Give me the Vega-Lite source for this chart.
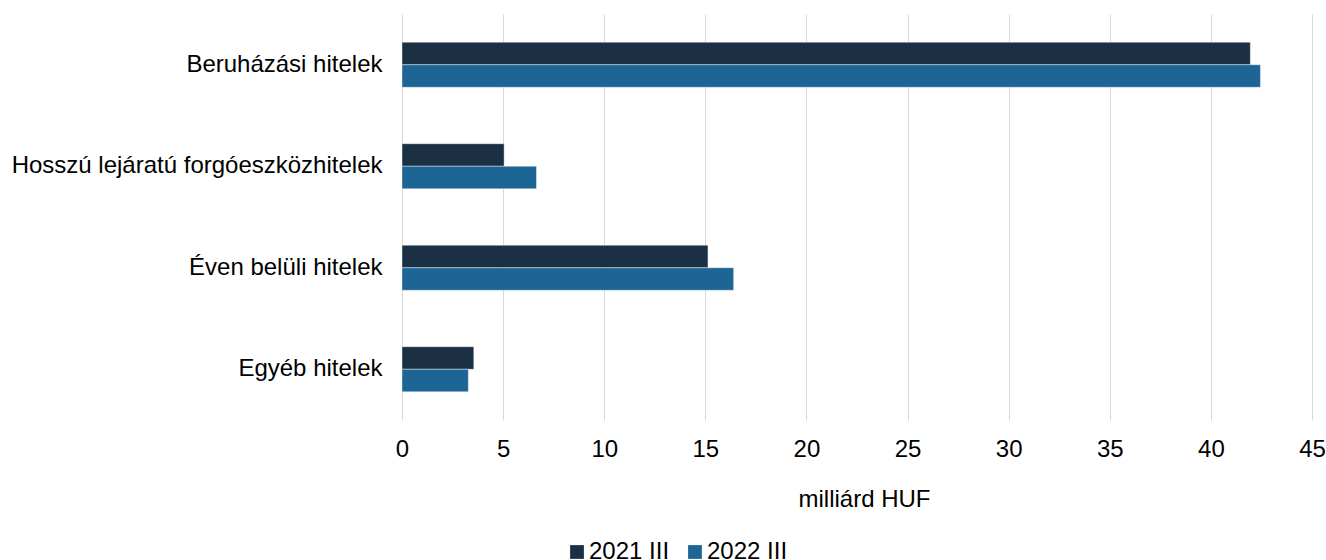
{
  "$schema": "https://vega.github.io/schema/vega-lite/v6.json",
  "width": 910,
  "height": 406,
  "autosize": {"type": "none"},
  "padding": {"left": 402, "top": 14, "right": 14, "bottom": 140},
  "background": "#ffffff",
  "config": {
    "font": "Liberation Sans",
    "view": {"stroke": null},
    "axis": {"labelFont": "Liberation Sans", "titleFont": "Liberation Sans"},
    "legend": {"labelFont": "Liberation Sans"}
  },
  "data": {
    "values": [
      {"kategoria": "Beruházási hitelek", "idoszak": "2021 III", "ertek": 41.95},
      {"kategoria": "Beruházási hitelek", "idoszak": "2022 III", "ertek": 42.45},
      {"kategoria": "Hosszú lejáratú forgóeszközhitelek", "idoszak": "2021 III", "ertek": 5.05},
      {"kategoria": "Hosszú lejáratú forgóeszközhitelek", "idoszak": "2022 III", "ertek": 6.65},
      {"kategoria": "Éven belüli hitelek", "idoszak": "2021 III", "ertek": 15.13},
      {"kategoria": "Éven belüli hitelek", "idoszak": "2022 III", "ertek": 16.4},
      {"kategoria": "Egyéb hitelek", "idoszak": "2021 III", "ertek": 3.55},
      {"kategoria": "Egyéb hitelek", "idoszak": "2022 III", "ertek": 3.28}
    ]
  },
  "mark": {"type": "bar", "stroke": "#ffffff", "strokeWidth": 0.8, "strokeOpacity": 0.5},
  "encoding": {
    "y": {
      "field": "kategoria",
      "type": "nominal",
      "sort": ["Beruházási hitelek", "Hosszú lejáratú forgóeszközhitelek", "Éven belüli hitelek", "Egyéb hitelek"],
      "scale": {"paddingInner": 0.556, "paddingOuter": 0.278},
      "axis": {
        "title": null,
        "domain": false,
        "ticks": false,
        "labelPadding": 20,
        "labelFontSize": 24,
        "labelColor": "#000000",
        "labelLimit": 500
      }
    },
    "yOffset": {
      "field": "idoszak",
      "type": "nominal",
      "sort": ["2021 III", "2022 III"]
    },
    "x": {
      "field": "ertek",
      "type": "quantitative",
      "scale": {"domain": [0, 45], "nice": false},
      "axis": {
        "title": "milliárd HUF",
        "values": [0, 5, 10, 15, 20, 25, 30, 35, 40, 45],
        "grid": true,
        "gridColor": "#d9d9d9",
        "gridWidth": 1,
        "domain": false,
        "ticks": false,
        "labelFlush": false,
        "labelOverlap": false,
        "labelPadding": 17,
        "labelFontSize": 24,
        "labelColor": "#000000",
        "titleFontSize": 24,
        "titleFontWeight": "normal",
        "titleColor": "#000000",
        "titleBaseline": "alphabetic",
        "titleAlign": "center",
        "titleX": 462,
        "titleY": 86
      }
    },
    "color": {
      "field": "idoszak",
      "type": "nominal",
      "sort": ["2021 III", "2022 III"],
      "scale": {"domain": ["2021 III", "2022 III"], "range": ["#1b3045", "#1d6595"]},
      "legend": {
        "title": null,
        "orient": "none",
        "direction": "horizontal",
        "legendX": 163,
        "legendY": 526,
        "padding": 0,
        "symbolType": "square",
        "symbolSize": 190,
        "symbolStrokeWidth": 0,
        "labelFontSize": 24,
        "labelColor": "#000000",
        "labelOffset": 0,
        "columnPadding": 13
      }
    }
  }
}
